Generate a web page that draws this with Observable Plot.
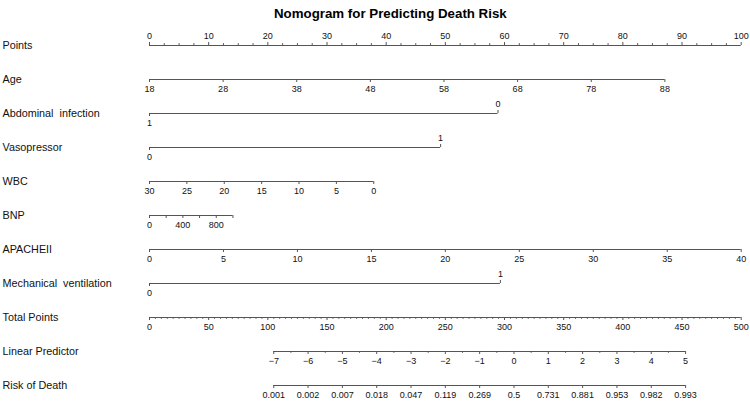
<!DOCTYPE html>
<html><head><meta charset="utf-8">
<script src="https://cdn.jsdelivr.net/npm/d3@7"></script>
<script src="https://cdn.jsdelivr.net/npm/@observablehq/plot@0.6"></script>
<style>
body{margin:0;background:#fff;}
svg text{white-space:pre;}
</style></head><body><div id="chart"></div>
<script>
const title = "Nomogram for Predicting Death Risk";
const rowNames = ["Points","Age","Abdominal  infection","Vasopressor","WBC","BNP","APACHEII","Mechanical  ventilation","Total Points","Linear Predictor","Risk of Death"];

// tick labels / values for each axis
const pointsLabels = [0,10,20,30,40,50,60,70,80,90,100];
const ageTicks = [18,28,38,48,58,68,78,88];
const abdominalLevels = ["1","0"];
const abdominalPoints = [0,58.9];
const vasoLevels = ["0","1"];
const vasoPoints = [0,49.2];
const wbcTicks = [30,25,20,15,10,5,0];
const bnpTicks = [0,200,400,600,800,1000];
const bnpLabels = [0,400,800];
const apacheTicks = [0,5,10,15,20,25,30,35,40];
const mvLevels = ["0","1"];
const mvPoints = [0,59.3];
const totalTicks = [0,50,100,150,200,250,300,350,400,450,500];
const lpTicks = [-7,-6,-5,-4,-3,-2,-1,0,1,2,3,4,5];
const riskLabels = ["0.001","0.002","0.007","0.018","0.047","0.119","0.269","0.5","0.731","0.881","0.953","0.982","0.993"];

// value -> points maps (nomogram scoring)
const agePts = [18,0,88,87.1];
const wbcPts = [30,0,0,37.9];
const bnpPts = [0,0,1000,14.1];
const apachePts = [0,0,40,100];
const totalPts = [0,0,500,100];
const lpPts = [-7,21.0,5,90.6];

const lin = ([v0,p0,v1,p1]) => v => p0 + (v - v0) * (p1 - p0) / (v1 - v0);

const ticks = []; // {row, p, label, up, major}
function add(row, p, label, up, major=true){ ticks.push({row, p, label, up, major}); }

// Points
pointsLabels.forEach(v => add("Points", v, String(v), true));
d3.range(0, 100, 2.5).filter(v => v % 10 !== 0).forEach(v => add("Points", v, "", true, false));
// Age
ageTicks.forEach(v => add("Age", lin(agePts)(v), String(v), false));
// Abdominal
abdominalLevels.forEach((l,i) => add("Abdominal  infection", abdominalPoints[i], l, i === 1));
// Vasopressor
vasoLevels.forEach((l,i) => add("Vasopressor", vasoPoints[i], l, i === 1));
// WBC
wbcTicks.forEach(v => add("WBC", lin(wbcPts)(v), String(v), false));
// BNP
bnpTicks.forEach(v => add("BNP", lin(bnpPts)(v), bnpLabels.includes(v) ? String(v) : "", false));
// APACHE
apacheTicks.forEach(v => add("APACHEII", lin(apachePts)(v), String(v), false));
// MV
mvLevels.forEach((l,i) => add("Mechanical  ventilation", mvPoints[i], l, i === 1));
// Total
totalTicks.forEach(v => add("Total Points", lin(totalPts)(v), String(v), false));
d3.range(0, 500, 5).filter(v => v % 50 !== 0).forEach(v => add("Total Points", lin(totalPts)(v), "", false, false));
// LP
lpTicks.forEach(v => add("Linear Predictor", lin(lpPts)(v), String(v).replace("-", "\u2212"), false));
d3.range(-6.5, 5, 1).forEach(v => add("Linear Predictor", lin(lpPts)(v), "", false, false));
// Risk
lpTicks.forEach((v,i) => add("Risk of Death", lin(lpPts)(v), riskLabels[i], false));

const segments = rowNames.map(row => {
  const ps = ticks.filter(t => t.row === row).map(t => t.p);
  return {row, p0: d3.min(ps), p1: d3.max(ps)};
});

const lineColor = "#555";
const chart = Plot.plot({
  width: 750,
  height: 402,
  marginLeft: 149,
  marginRight: 9.3,
  marginTop: 43.5,
  marginBottom: 15.3,
  style: {fontFamily: "'Liberation Sans', Arial, Helvetica, sans-serif", background: "#fff", color: "#000"},
  x: {domain: [0, 100], axis: null},
  y: {type: "point", domain: rowNames, padding: 0, axis: null},
  marks: [
    Plot.ruleY(segments, {y: "row", x1: "p0", x2: "p1", stroke: lineColor, strokeWidth: 1}),
    Plot.ruleX(ticks.filter(t => t.up && t.major), {x: "p", y1: "row", y2: "row", insetTop: -3, stroke: lineColor}),
    Plot.ruleX(ticks.filter(t => t.up && !t.major), {x: "p", y1: "row", y2: "row", insetTop: -1.8, stroke: lineColor}),
    Plot.ruleX(ticks.filter(t => !t.up && t.major), {x: "p", y1: "row", y2: "row", insetBottom: -3, stroke: lineColor}),
    Plot.ruleX(ticks.filter(t => !t.up && !t.major), {x: "p", y1: "row", y2: "row", insetBottom: -1.8, stroke: lineColor}),
    Plot.text(ticks.filter(t => t.up && t.label), {x: "p", y: "row", text: "label", dy: -9, fontSize: 9, fill: "#111"}),
    Plot.text(ticks.filter(t => !t.up && t.label), {x: "p", y: "row", text: "label", dy: 10, fontSize: 9, fill: "#111"}),
    Plot.text(rowNames, {y: d => d, text: d => d, frameAnchor: "left", dx: -147, textAnchor: "start", fontSize: 10.8, fill: "#111"}),
    Plot.text([title], {frameAnchor: "top", dx: -55, dy: -35.5, fontSize: 13.3, fontWeight: "bold", fill: "#000"})
  ]
});
document.getElementById("chart").appendChild(chart);
</script></body></html>
